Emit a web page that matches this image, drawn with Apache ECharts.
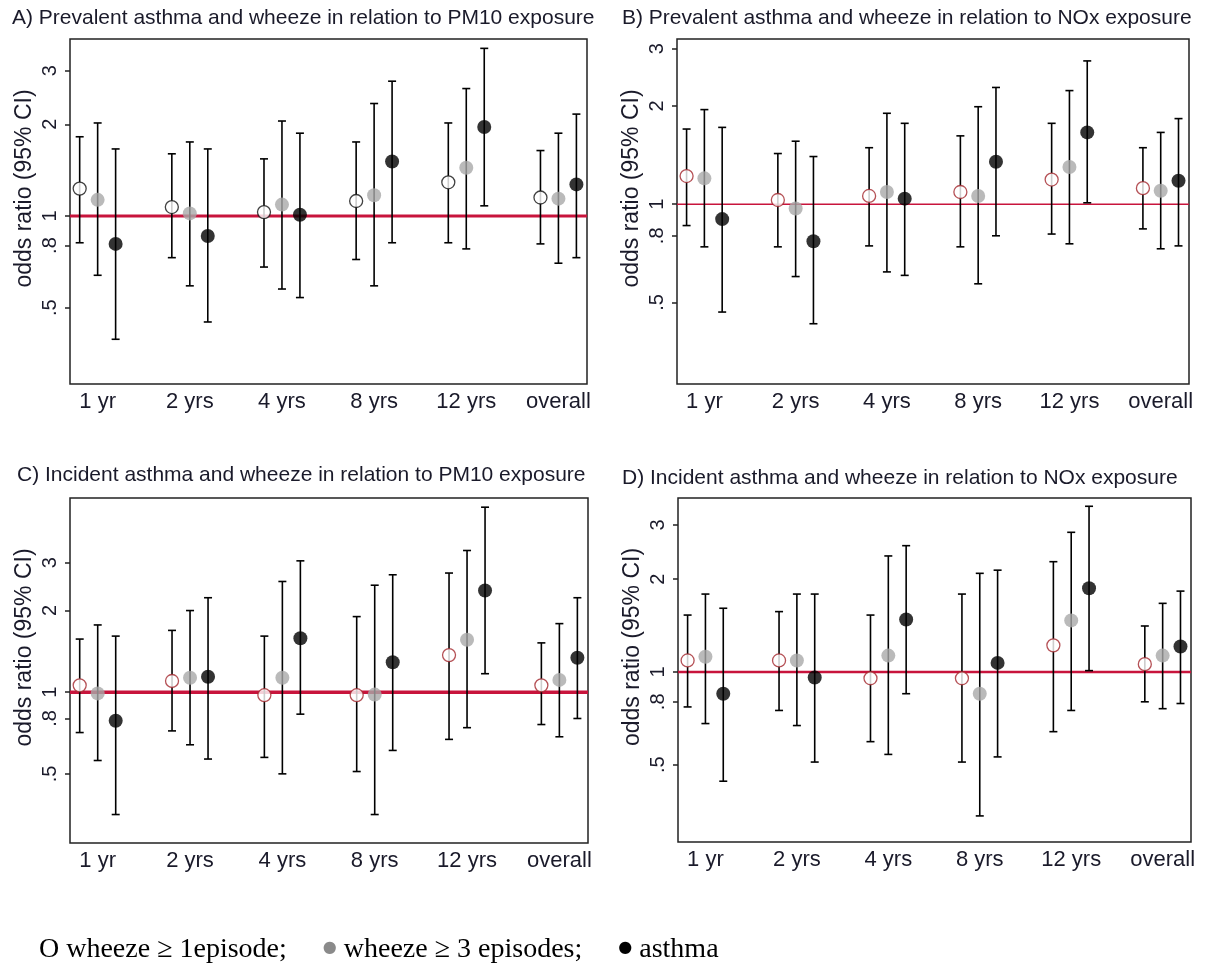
<!DOCTYPE html>
<html><head><meta charset="utf-8">
<script src="https://cdn.jsdelivr.net/npm/echarts@6/dist/echarts.min.js"></script>
<style>html,body{margin:0;padding:0;background:#fff}#c{width:1207px;height:974px}</style>
</head><body><div id="c"></div>
<script>
// ---------- data ----------
const categories = ['1 yr', '2 yrs', '4 yrs', '8 yrs', '12 yrs', 'overall'];
const yTickValues = [0.5, 0.8, 1, 2, 3];
const yTickLabels = ['.5', '.8', '1', '2', '3'];
const refValue = 1;
const panelTitles = [
  'A) Prevalent asthma and wheeze in relation to PM10 exposure',
  'B) Prevalent asthma and wheeze in relation to NOx exposure',
  'C) Incident asthma and wheeze in relation to PM10 exposure',
  'D) Incident asthma and wheeze in relation to NOx exposure'
];
const yAxisTitle = 'odds ratio (95% CI)';
const yMinByPanel = [0.281, 0.281, 0.278, 0.2806];
const yMaxByPanel = [3.81, 3.21, 5.2, 3.67];

// Panel A  (prevalent, PM10)
const A_wheeze1_or = [1.23, 1.07, 1.03, 1.12, 1.29, 1.15];
const A_wheeze1_lo = [0.817, 0.73, 0.68, 0.72, 0.817, 0.81];
const A_wheeze1_hi = [1.82, 1.60, 1.54, 1.75, 2.02, 1.64];
const A_wheeze3_or = [1.13, 1.02, 1.09, 1.17, 1.44, 1.14];
const A_wheeze3_lo = [0.639, 0.59, 0.576, 0.59, 0.78, 0.70];
const A_wheeze3_hi = [2.02, 1.75, 2.05, 2.34, 2.62, 1.87];
const A_asthma_or = [0.81, 0.86, 1.01, 1.51, 1.96, 1.27];
const A_asthma_lo = [0.394, 0.449, 0.54, 0.817, 1.08, 0.73];
const A_asthma_hi = [1.66, 1.66, 1.87, 2.77, 3.55, 2.16];

// Panel B  (prevalent, NOx)
const B_wheeze1_or = [1.22, 1.03, 1.06, 1.09, 1.19, 1.12];
const B_wheeze1_lo = [0.86, 0.74, 0.745, 0.74, 0.81, 0.84];
const B_wheeze1_hi = [1.70, 1.43, 1.49, 1.62, 1.77, 1.49];
const B_wheeze3_or = [1.20, 0.97, 1.09, 1.06, 1.30, 1.10];
const B_wheeze3_lo = [0.74, 0.60, 0.62, 0.57, 0.756, 0.73];
const B_wheeze3_hi = [1.95, 1.56, 1.90, 1.99, 2.23, 1.66];
const B_asthma_or = [0.90, 0.77, 1.04, 1.35, 1.66, 1.18];
const B_asthma_lo = [0.467, 0.43, 0.605, 0.80, 1.01, 0.745];
const B_asthma_hi = [1.72, 1.40, 1.77, 2.28, 2.75, 1.83];

// Panel C  (incident, PM10)
const C_wheeze1_or = [1.06, 1.10, 0.975, 0.975, 1.37, 1.06];
const C_wheeze1_lo = [0.71, 0.72, 0.575, 0.51, 0.67, 0.76];
const C_wheeze1_hi = [1.57, 1.69, 1.61, 1.90, 2.75, 1.52];
const C_wheeze3_or = [0.99, 1.13, 1.13, 0.98, 1.56, 1.11];
const C_wheeze3_lo = [0.56, 0.64, 0.50, 0.354, 0.74, 0.685];
const C_wheeze3_hi = [1.77, 2.0, 2.56, 2.48, 3.33, 1.79];
const C_asthma_or = [0.785, 1.14, 1.58, 1.29, 2.37, 1.34];
const C_asthma_lo = [0.354, 0.567, 0.83, 0.61, 1.17, 0.80];
const C_asthma_hi = [1.61, 2.23, 3.05, 2.71, 4.81, 2.23];

// Panel D  (incident, NOx)
const D_wheeze1_or = [1.09, 1.09, 0.954, 0.954, 1.22, 1.06];
const D_wheeze1_lo = [0.77, 0.75, 0.594, 0.51, 0.64, 0.80];
const D_wheeze1_hi = [1.53, 1.57, 1.53, 1.79, 2.28, 1.41];
const D_wheeze3_or = [1.12, 1.09, 1.13, 0.85, 1.47, 1.13];
const D_wheeze3_lo = [0.68, 0.67, 0.54, 0.341, 0.75, 0.76];
const D_wheeze3_hi = [1.79, 1.79, 2.38, 2.09, 2.84, 1.67];
const D_asthma_or = [0.85, 0.96, 1.48, 1.07, 1.87, 1.21];
const D_asthma_lo = [0.442, 0.51, 0.85, 0.53, 1.01, 0.79];
const D_asthma_hi = [1.61, 1.79, 2.57, 2.14, 3.45, 1.83];

// ---------- layout / style ----------
const panels = [
  {grid: {left: 70, top: 39, width: 517, height: 345}, title: {left: 12, top: 8},
   data: [[A_wheeze1_or, A_wheeze1_lo, A_wheeze1_hi], [A_wheeze3_or, A_wheeze3_lo, A_wheeze3_hi], [A_asthma_or, A_asthma_lo, A_asthma_hi]],
   openBorder: '#111', refWidth: 3},
  {grid: {left: 677, top: 39, width: 512, height: 345}, title: {left: 622, top: 8},
   data: [[B_wheeze1_or, B_wheeze1_lo, B_wheeze1_hi], [B_wheeze3_or, B_wheeze3_lo, B_wheeze3_hi], [B_asthma_or, B_asthma_lo, B_asthma_hi]],
   openBorder: '#a3262c', refWidth: 1.5},
  {grid: {left: 70, top: 498, width: 518, height: 345}, title: {left: 17, top: 465},
   data: [[C_wheeze1_or, C_wheeze1_lo, C_wheeze1_hi], [C_wheeze3_or, C_wheeze3_lo, C_wheeze3_hi], [C_asthma_or, C_asthma_lo, C_asthma_hi]],
   openBorder: '#a3262c', refWidth: 3.5},
  {grid: {left: 678, top: 498, width: 513, height: 344}, title: {left: 622, top: 468},
   data: [[D_wheeze1_or, D_wheeze1_lo, D_wheeze1_hi], [D_wheeze3_or, D_wheeze3_lo, D_wheeze3_hi], [D_asthma_or, D_asthma_lo, D_asthma_hi]],
   openBorder: '#a3262c', refWidth: 2.5}
];
const xOffsets = [-0.195, 0, 0.195];
const FONT = 'Liberation Sans, Arial, sans-serif';

function renderErr(params, api) {
  const x = api.value(0);
  const pLo = api.coord([x, api.value(1)]);
  const pHi = api.coord([x, api.value(2)]);
  const cap = 4;
  const st = {stroke: '#000', lineWidth: 1.6};
  return {type: 'group', children: [
    {type: 'line', shape: {x1: pLo[0], y1: pLo[1], x2: pHi[0], y2: pHi[1]}, style: st},
    {type: 'line', shape: {x1: pLo[0] - cap, y1: pLo[1], x2: pLo[0] + cap, y2: pLo[1]}, style: st},
    {type: 'line', shape: {x1: pHi[0] - cap, y1: pHi[1], x2: pHi[0] + cap, y2: pHi[1]}, style: st}
  ]};
}

const option = {
  animation: false,
  backgroundColor: '#fff',
  title: [], grid: [], xAxis: [], yAxis: [], series: []
};

const logTicks = yTickValues.map(v => Math.log(v));
function yLabelFmt(v) {
  for (let i = 0; i < logTicks.length; i++) if (Math.abs(logTicks[i] - v) < 1e-6) return yTickLabels[i];
  return '';
}

panels.forEach((p, pi) => {
  option.title.push({text: panelTitles[pi], left: p.title.left, top: p.title.top, padding: 0,
    textStyle: {fontFamily: FONT, fontSize: 21, fontWeight: 'normal', color: '#1a1a2a'}});
  option.grid.push(Object.assign({show: true, borderColor: '#222', borderWidth: 1.5, backgroundColor: 'transparent'}, p.grid));
  option.xAxis.push({type: 'value', gridIndex: pi, min: 0.7, max: 6.31,
    axisLine: {show: false}, axisTick: {show: false}, splitLine: {show: false},
    axisLabel: {customValues: [1, 2, 3, 4, 5, 6], formatter: v => categories[Math.round(v) - 1] || '',
      fontFamily: FONT, fontSize: 22, color: '#1a1a2a', margin: 7}});
  option.yAxis.push({type: 'value', gridIndex: pi,
    min: Math.log(yMinByPanel[pi]), max: Math.log(yMaxByPanel[pi]),
    axisLine: {show: false}, splitLine: {show: false},
    axisTick: {show: true, customValues: logTicks, length: 5, lineStyle: {color: '#222', width: 1.5}},
    axisLabel: {customValues: logTicks, formatter: yLabelFmt, rotate: 90, margin: 10,
      fontFamily: FONT, fontSize: 20, color: '#1a1a2a'},
    name: yAxisTitle, nameLocation: 'middle', nameGap: 34, nameRotate: 90,
    nameTextStyle: {fontFamily: FONT, fontSize: 23, color: '#1a1a2a', padding: [0, 0, 0, 46]}});
  // reference line at odds ratio 1
  option.series.push({type: 'line', xAxisIndex: pi, yAxisIndex: pi, symbol: 'none', silent: true, z: 1,
    data: [[0.7, Math.log(refValue)], [6.31, Math.log(refValue)]],
    lineStyle: {color: '#c8143c', width: p.refWidth}});
  const errData = [];
  p.data.forEach((s, si) => {
    s[0].forEach((v, ci) => errData.push([ci + 1 + xOffsets[si], Math.log(s[1][ci]), Math.log(s[2][ci])]));
  });
  option.series.push({type: 'custom', xAxisIndex: pi, yAxisIndex: pi, z: 2, silent: true,
    renderItem: renderErr, encode: {x: 0, y: [1, 2]}, data: errData});
  const styles = [
    {color: '#fff', borderColor: p.openBorder, borderWidth: 1.3},
    {color: '#a9a9a9', borderWidth: 0},
    {color: '#000', borderWidth: 0}
  ];
  p.data.forEach((s, si) => {
    option.series.push({type: 'scatter', xAxisIndex: pi, yAxisIndex: pi, z: 3, symbol: 'circle',
      symbolSize: si === 0 ? 13 : 14, itemStyle: styles[si],
      data: s[0].map((v, ci) => [ci + 1 + xOffsets[si], Math.log(v)])});
  });
});

// bottom legend text
option.title.push({
  text: '{t|O wheeze \u2265 1episode;}{sp|}{g|\u25CF}{t| wheeze \u2265 3 episodes;}{sp|}{k|\u25CF}{t| asthma}',
  left: 39, top: 936, padding: 0,
  textStyle: {fontWeight: 'normal', rich: {
    t: {fontFamily: 'Liberation Serif, Times New Roman, serif', fontSize: 28, fontWeight: 'normal', color: '#000'},
    sp: {width: 36},
    g: {fontFamily: 'DejaVu Sans', fontSize: 16, color: '#8a8a8a', padding: [0, 0, 5, 0]},
    k: {fontFamily: 'DejaVu Sans', fontSize: 16, color: '#000', padding: [0, 0, 5, 0]}
  }}
});

const chart = echarts.init(document.getElementById('c'), null, {renderer: 'canvas'});
chart.setOption(option);
</script>
</body></html>
